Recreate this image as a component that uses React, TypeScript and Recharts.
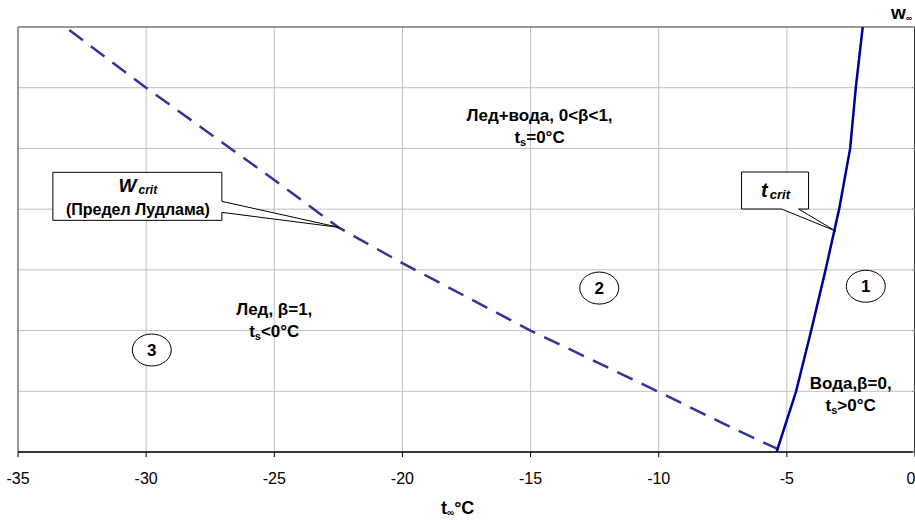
import { LineChart, Line, XAxis, YAxis, CartesianGrid, ReferenceLine, ReferenceDot } from 'recharts'

const xTicks = [-35, -30, -25, -20, -15, -10, -5, 0]
const yTicks = [0, 1, 2, 3, 4, 5, 6, 7]

// w_crit (предел Лудлама), штриховая
const wCritT = [-33.0, -30, -25, -22.5, -20, -15, -10, -7, -5.1]
const wCritW = [6.95, 6.0, 4.48, 3.7, 3.11, 2.0, 0.99, 0.37, 0]

// t_crit, сплошная
const tCritT = [-5.4, -4.64, -4.05, -3.49, -2.96, -2.53, -2.31, -2.04]
const tCritW = [0, 1, 2, 3, 4, 5, 6, 7]

// подписи областей
const zoneNames = ['Лед+вода, 0<β<1,', 'Лед, β=1,', 'Вода,β=0,']
const zoneCond = ['=0°C', '<0°C', '>0°C']
const zoneLabelT = [-14.65, -25.0, -2.51]
const zoneLabelW = [5.46, 2.25, 1.03]

// номера областей в кружках
const zoneNumbers = ['1', '2', '3']
const zoneNumT = [-1.92, -12.32, -29.78]
const zoneNumW = [2.73, 2.7, 1.68]

const wCritData = wCritT.map((t, i) => ({ t, w: wCritW[i] }))
const tCritData = tCritT.map((t, i) => ({ t, w: tCritW[i] }))

const FONT = '"Liberation Sans", Arial, sans-serif'

const ZoneLabel = (name: string, cond: string) => (props: any) => {
  const { cx, cy } = props
  return (
    <g fontFamily={FONT} fontWeight="bold" fontSize={17} fill="#000" textAnchor="middle">
      <text x={cx} y={cy}>{name}</text>
      <text x={cx} y={cy + 22}>
        t<tspan fontSize={11} dy={3}>s</tspan>
        <tspan dy={-3}>{cond}</tspan>
      </text>
    </g>
  )
}

const ZoneNumber = (num: string) => (props: any) => {
  const { cx, cy } = props
  return (
    <g>
      <ellipse cx={cx} cy={cy} rx={19.5} ry={16} fill="#fff" stroke="#000" strokeWidth={1} />
      <text x={cx} y={cy + 6} textAnchor="middle" fontFamily={FONT} fontWeight="bold" fontSize={17}>{num}</text>
    </g>
  )
}

const WCallout = (props: any) => {
  const { cx, cy } = props
  const d = `M${cx - 286},${cy - 55} H${cx - 117} V${cy - 26} L${cx},${cy} L${cx - 117},${cy - 15} V${cy - 7} H${cx - 286} Z`
  return (
    <g fontFamily={FONT} fontWeight="bold">
      <path d={d} fill="#fff" stroke="#000" strokeWidth={1} />
      <text x={cx - 201} y={cy - 35} textAnchor="middle" fontStyle="italic">
        <tspan fontSize={19}>W</tspan>
        <tspan fontSize={12} dx={2} dy={2}>crit</tspan>
      </text>
      <text x={cx - 201} y={cy - 12} textAnchor="middle" fontSize={16}>(Предел Лудлама)</text>
    </g>
  )
}

const TCallout = (props: any) => {
  const { cx, cy } = props
  const d = `M${cx - 94},${cy - 59} H${cx - 27} V${cy - 22} H${cx - 37} L${cx},${cy} L${cx - 54},${cy - 22} H${cx - 94} Z`
  return (
    <g fontFamily={FONT} fontWeight="bold" fontStyle="italic">
      <path d={d} fill="#fff" stroke="#000" strokeWidth={1} />
      <text x={cx - 60} y={cy - 34} textAnchor="middle">
        <tspan fontSize={20}>t</tspan>
        <tspan fontSize={13} dx={2} dy={2}>crit</tspan>
      </text>
    </g>
  )
}

const NoTick = () => <g />

export default function App() {
  return (
    <div style={{ position: 'absolute', left: 0, top: 0, width: 915, height: 522, background: '#fff' }}>
      <LineChart width={915} height={522} margin={{ top: 27, right: 0, left: 18, bottom: 40 }}>
        <CartesianGrid stroke="#c0c0c0" strokeWidth={1} />
        <XAxis
          dataKey="t"
          type="number"
          domain={[-35, 0]}
          ticks={xTicks}
          allowDataOverflow
          height={30}
          axisLine={{ stroke: '#000', strokeWidth: 1.5 }}
          tickLine={{ stroke: '#000' }}
          tickSize={5}
          tickMargin={16}
          tick={{ fill: '#000', fontSize: 16, fontFamily: FONT }}
        />
        <YAxis
          dataKey="w"
          type="number"
          orientation="right"
          domain={[0, 7]}
          ticks={yTicks}
          allowDataOverflow
          width={5}
          mirror
          tick={NoTick}
          tickSize={3}
          tickLine={{ stroke: '#999' }}
          axisLine={{ stroke: '#000', strokeWidth: 1.5 }}
        />
        <ReferenceLine y={7} stroke="#808080" strokeWidth={1.5} />
        <ReferenceLine x={-35} stroke="#808080" strokeWidth={1.5} />
        <Line data={wCritData} dataKey="w" type="linear" stroke="#333399" strokeWidth={2.5} strokeDasharray="17 10" dot={false} isAnimationActive={false} />
        <Line data={tCritData} dataKey="w" type="linear" stroke="#000099" strokeWidth={2.5} dot={false} isAnimationActive={false} />
        {zoneNames.map((n, i) => (
          <ReferenceDot key={n} x={zoneLabelT[i]} y={zoneLabelW[i]} r={0} shape={ZoneLabel(n, zoneCond[i])} />
        ))}
        {zoneNumbers.map((n, i) => (
          <ReferenceDot key={n} x={zoneNumT[i]} y={zoneNumW[i]} r={0} shape={ZoneNumber(n)} />
        ))}
        <ReferenceDot x={-22.48} y={3.7} r={0} shape={WCallout} />
        <ReferenceDot x={-3.1} y={3.64} r={0} shape={TCallout} />
      </LineChart>
      <svg width={915} height={522} style={{ position: 'absolute', left: 0, top: 0, pointerEvents: 'none' }}>
        <text x={441} y={514} fontFamily={FONT} fontWeight="bold" fontSize={18}>
          t<tspan fontSize={10} dy={2}>∞</tspan>
          <tspan dy={-2}>°C</tspan>
        </text>
        <text x={891} y={19} fontFamily={FONT} fontWeight="bold" fontSize={19}>
          w<tspan fontSize={9} dy={2}>∞</tspan>
        </text>
      </svg>
    </div>
  )
}
